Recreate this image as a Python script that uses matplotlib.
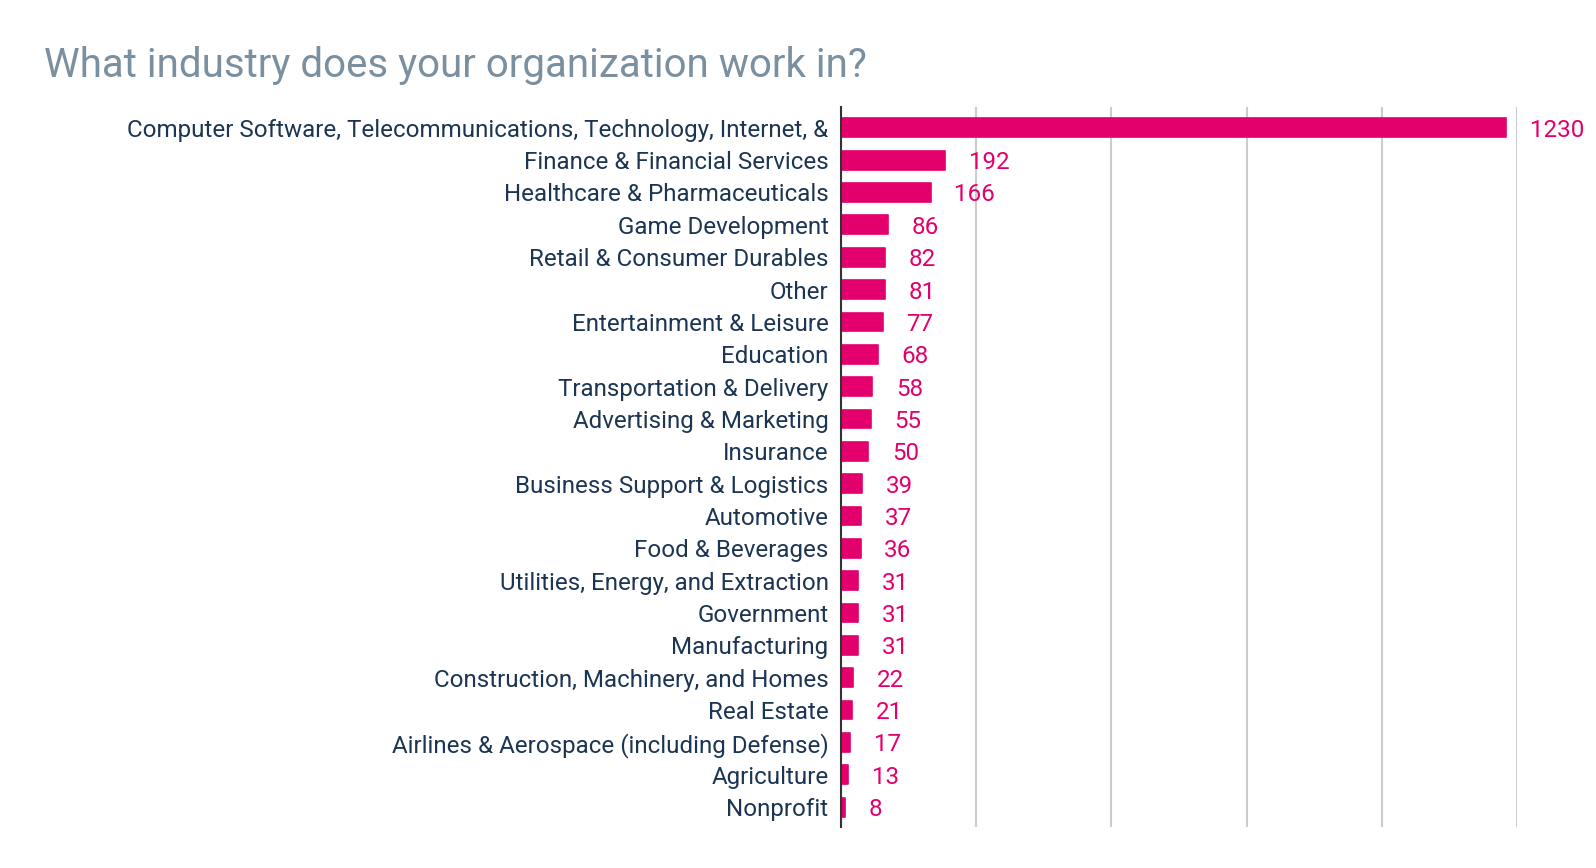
import matplotlib.pyplot as plt
from matplotlib.ticker import MultipleLocator

industries = [
    "Computer Software, Telecommunications, Technology, Internet, &",
    "Finance & Financial Services",
    "Healthcare & Pharmaceuticals",
    "Game Development",
    "Retail & Consumer Durables",
    "Other",
    "Entertainment & Leisure",
    "Education",
    "Transportation & Delivery",
    "Advertising & Marketing",
    "Insurance",
    "Business Support & Logistics",
    "Automotive",
    "Food & Beverages",
    "Utilities, Energy, and Extraction",
    "Government",
    "Manufacturing",
    "Construction, Machinery, and Homes",
    "Real Estate",
    "Airlines & Aerospace (including Defense)",
    "Agriculture",
    "Nonprofit",
]
counts = [1230, 192, 166, 86, 82, 81, 77, 68, 58, 55, 50, 39, 37, 36, 31, 31, 31, 22, 21, 17, 13, 8]

pink = "#E4006C"
navy = "#1C3553"

plt.rcParams['font.family'] = ['Roboto', 'DejaVu Sans']

fig = plt.figure(figsize=(15.96, 8.68), dpi=100)
ax = fig.add_axes([0.527, 0.047, 0.4235, 0.83])

pos = list(range(len(industries)))
ax.barh(pos, counts, height=0.58, color=pink, edgecolor=pink, linewidth=1.2,
        joinstyle='round', zorder=3)

for y, v in zip(pos, counts):
    ax.annotate(str(v), (v, y), xytext=(17, 0), textcoords='offset points',
                color=pink, fontsize=17.4, va='center_baseline', ha='left',
                annotation_clip=False)

ax.set_xlim(0, 1250)
ax.set_ylim(len(industries) - 0.38, -0.65)
ax.xaxis.set_major_locator(MultipleLocator(250))
ax.grid(axis='x', color='#cccccc', linewidth=1.5, zorder=0)
ax.set_xticklabels([])
ax.tick_params(axis='x', length=0)
ax.set_yticks(pos)
ax.set_yticklabels(industries, fontsize=17.4, color=navy, va='center_baseline')
ax.tick_params(axis='y', length=0, pad=9)

for s in ['top', 'right', 'bottom']:
    ax.spines[s].set_visible(False)
ax.spines['left'].set_color('#333333')
ax.spines['left'].set_linewidth(1.5)
ax.spines['left'].set_zorder(4)

fig.text(0.0275, 0.924, "What industry does your organization work in?",
         fontsize=29, color='#7A8FA0', va='center', ha='left')

fig.savefig("out.png", dpi=100)
